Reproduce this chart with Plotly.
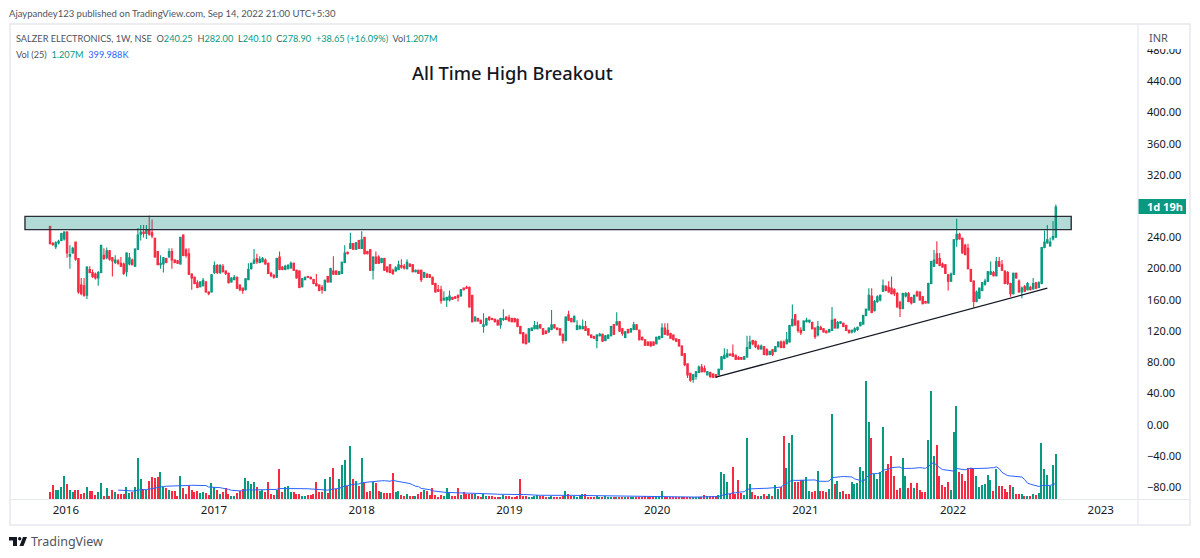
import pandas as pd
import plotly.graph_objects as go

first_week = "2015-11-23"
opens = [
254,232,228,233,236,238,247,216,220,234, 213,179,178,166,199,195,193,188,195,217,
214,223,214,208,210,207,206,196,206,211, 203,225,244,247,245,250,246,239,222,205,
206,213,215,222,211,210,206,243,224,219, 193,189,182,177,178,183,170,170,195,204,
195,203,197,194,183,186,189,179,175,173, 186,200,207,213,208,209,211,207,194,191,
189,215,202,199,200,201,207,198,197,177, 186,190,189,186,181,179,176,172,190,183,
197,197,193,194,208,221,226,232,225,236, 226,240,222,224,198,215,215,208,213,202,
205,198,197,199,204,203,200,206,205,196, 198,198,189,193,192,189,181,173,173,160,
160,160,163,164,166,165,175,176,176,166, 133,136,134,126,128,138,136,135,134,128,
135,138,137,136,136,135,126,118,115,106, 121,123,123,128,123,120,119,122,128,124,
123,116,108,141,136,132,122,123,123,126, 123,115,113,108,114,116,108,111,114,128,
128,132,123,112,122,119,122,128,121,112, 109,106,106,106,104,110,112,124,121,117,
115,110,109,101,91,78,66,58,62,67, 74,72,64,67,65,64,64,71,85,87,
90,91,89,86,86,84,87,98,108,107, 101,97,100,96,90,96,94,100,106,106,
104,106,127,141,133,121,121,132,132,131, 124,115,125,123,120,119,121,135,124,130,
130,127,121,119,120,122,127,129,140,147, 165,146,158,160,171,177,176,175,173,168,
157,149,165,168,163,157,170,170,164,158, 156,181,203,219,213,206,205,192,184,193,
237,244,239,230,226,199,184,158,162,172, 180,184,193,195,191,209,205,197,195,181,
168,194,184,170,177,173,176,174,182,176, 181,227,233,229,238,240.25]
closes = [
232,231,233,235,245,247,220,218,226,212, 170,168,166,202,195,190,188,195,230,213,
223,212,210,211,207,203,194,220,214,205, 225,243,247,245,250,244,242,215,205,207,
214,208,222,211,208,207,240,217,217,193, 188,181,176,183,185,170,168,192,204,195,
204,196,194,182,188,189,175,173,172,187, 199,207,211,209,212,213,206,194,191,189,
213,199,199,203,204,207,198,188,176,187, 189,189,187,181,178,172,173,185,183,200,
193,193,196,208,220,219,232,225,233,226, 237,219,219,198,215,207,207,213,198,196,
195,194,201,205,202,201,208,203,196,198, 194,186,195,189,189,180,170,171,159,162,
163,165,161,162,163,173,173,175,151,132, 138,133,130,128,136,135,135,132,128,136,
136,135,133,132,132,126,117,105,104,123, 124,127,127,124,116,117,124,128,124,122,
115,108,138,134,132,139,127,126,126,121, 115,112,111,115,116,107,114,115,126,116,
132,120,117,119,118,123,128,122,109,109, 102,102,101,102,112,113,124,116,115,111,
109,107,101,89,77,64,57,64,68,74, 68,68,68,62,61,61,71,87,89,91,
89,88,84,84,84,87,99,106,104,100, 97,101,90,90,94,90,100,106,99,99,
109,127,135,128,121,118,133,134,134,123, 113,126,122,119,118,122,134,124,131,132,
126,121,118,121,123,125,131,140,148,166, 144,158,164,166,178,172,170,168,168,151,
149,168,168,158,156,166,165,160,155,156, 181,209,211,207,204,202,194,184,193,237,
244,238,220,218,200,184,158,170,175,182, 184,196,196,191,209,203,198,181,181,168,
194,188,170,175,171,181,173,181,175,182, 227,234,237,234,241,278.9]
highs = [
255,234,235,237,246,248,248,230,228,234, 213,188,188,203,203,199,195,197,230,226,
227,224,215,217,212,215,208,221,220,213, 226,252,256,256,256,268,263,240,222,217,
215,214,226,226,212,211,241,244,226,226, 194,190,185,184,188,184,171,193,209,206,
206,206,198,195,189,192,190,180,176,188, 207,208,225,219,216,215,213,208,196,193,
214,222,203,205,206,209,208,199,198,188, 190,191,190,187,193,180,179,186,191,201,
216,198,197,209,230,222,246,233,234,237, 248,241,223,225,216,222,217,214,214,203,
206,200,203,210,212,206,212,207,206,199, 199,199,196,194,193,190,182,179,178,171,
164,172,164,165,167,174,176,178,177,166, 139,137,135,143,137,139,137,136,135,137,
148,139,141,137,137,136,127,119,117,124, 125,133,132,129,124,121,125,147,129,125,
124,117,139,146,137,140,134,128,135,133, 124,116,114,116,118,117,115,116,127,129,
144,133,124,120,123,124,132,129,122,113, 110,107,107,107,113,114,130,130,130,118,
116,111,110,102,92,79,66,65,69,76, 78,76,69,68,66,65,72,88,98,97,
92,103,90,88,87,88,114,114,109,108, 103,103,101,98,95,97,101,107,108,108,
119,128,154,142,134,125,134,137,135,132, 125,133,127,124,121,123,151,136,133,133,
131,128,122,122,125,126,132,141,149,175, 175,160,166,167,186,179,184,190,175,170,
159,169,170,170,164,167,172,171,165,159, 182,210,224,235,220,208,206,193,195,238,
264,246,240,232,232,200,185,172,176,183, 187,197,209,197,215,215,211,198,197,182,
195,195,186,177,179,183,178,188,183,184, 228,249,256,240,261,282]
lows = [
231,229,225,231,235,236,214,200,219,210, 168,166,164,161,194,188,186,178,194,211,
212,210,190,206,205,202,192,190,204,204, 202,224,236,240,238,242,239,214,205,200,
195,207,214,200,207,206,205,216,214,192, 173,180,175,176,177,169,166,169,193,193,
193,195,192,181,182,185,174,171,168,172, 185,199,206,206,207,208,205,193,189,187,
188,198,198,198,199,200,197,187,175,176, 185,188,186,180,177,171,168,171,182,182,
192,192,192,193,207,218,225,224,224,225, 225,218,218,197,186,206,206,207,197,195,
194,192,196,198,200,199,199,202,195,195, 193,183,188,188,188,179,169,170,155,159,
151,158,160,161,158,164,172,174,150,131, 132,132,129,118,127,133,134,131,127,123,
133,134,132,131,131,125,116,104,103,105, 120,122,122,123,115,116,118,121,123,121,
114,104,107,133,131,131,121,122,122,120, 114,111,110,98,113,106,107,110,113,115,
127,119,114,111,117,118,121,121,108,108, 101,101,100,101,103,109,111,115,114,110,
108,106,100,88,75,60,55,54,58,66, 67,67,63,60,60,60,63,70,84,86,
88,87,83,83,83,83,86,97,102,98, 96,96,89,88,89,88,93,99,98,98,
103,105,126,127,118,115,120,131,130,122, 110,113,121,118,117,118,120,123,123,129,
125,120,117,117,118,120,126,128,139,146, 143,145,156,158,170,171,169,167,165,150,
138,148,163,157,154,156,164,159,154,155, 155,180,202,206,203,201,193,172,183,192,
228,237,219,217,199,183,150,157,161,171, 178,183,192,190,190,202,197,180,179,164,
167,187,169,162,170,172,172,173,174,175, 180,226,232,228,236,240.1]
# Weekly volume, in units of about 8.94k shares (the last bar is 1.207M)
volumes = [
20,42,26,26,36,68,45,26,20,26, 26,15,17,37,23,23,12,20,48,9,
32,9,28,22,15,15,15,36,17,20, 36,122,60,30,28,55,65,62,65,80,
37,33,28,23,23,9,70,33,15,40, 28,20,25,18,22,17,12,48,35,28,
15,20,32,14,8,10,18,25,30,62, 55,45,50,35,25,28,22,50,14,12,
28,90,20,35,38,22,20,15,15,10, 10,13,13,15,50,22,20,60,17,65,
93,30,60,102,116,40,160,60,55,40, 122,48,22,25,52,48,25,20,18,18,
18,77,20,25,12,10,15,10,8,10, 15,20,28,25,12,33,12,7,12,10,
33,20,8,10,33,12,22,16,16,16, 16,8,5,14,8,10,8,6,7,6,
12,10,8,7,6,8,60,10,10,7, 6,10,12,10,10,6,5,10,5,4,
4,8,24,14,10,8,5,8,14,14, 7,7,7,9,4,4,10,6,4,6,
5,5,5,5,4,5,5,4,5,5, 10,4,5,5,5,5,23,5,5,6,
5,5,4,5,4,5,6,6,6,6, 6,13,10,10,10,10,13,80,76,52,
15,96,15,57,18,12,183,45,22,12, 8,10,15,10,14,9,42,30,36,189,
92,169,191,52,52,58,58,65,25,20, 25,84,24,24,22,30,254,45,54,20,
24,14,14,50,44,47,95,84,355,231, 183,75,60,80,217,85,105,129,70,28,
34,124,70,34,47,34,47,26,22,20, 177,324,129,163,68,42,36,50,28,200,
279,82,74,54,92,92,92,68,36,42, 45,72,57,24,90,40,38,30,22,42,
36,15,15,14,8,8,8,14,12,18, 169,90,71,40,102,135]
year_ticks = ["2016-01-01","2017-01-01","2018-01-01","2019-01-01","2020-01-01","2021-01-01","2022-01-01","2023-01-01"]
year_labels = ["2016","2017","2018","2019","2020","2021","2022","2023"]
zone_prices = [250, 267]
zone_dates = ["2015-09-22", "2022-10-20"]
trend_dates = ["2020-05-25", "2022-08-22"]
trend_prices = [61, 175]

UP = "#089981"
DOWN = "#f82a41"
FRAME = "#e6e8f0"
FONT = "Noto Sans"
TEXT_FONT = "Lato"

dates = pd.date_range(first_week, periods=len(closes), freq="7D")
vol_colors = [UP if c >= o else DOWN for o, c in zip(opens, closes)]
vol_ma = pd.Series(volumes).rolling(25).mean()


def xp(px):
    return (px - 10) / 1128


def yp(py):
    return (499 - py) / 475


fig = go.Figure()
fig.add_trace(go.Bar(x=dates, y=volumes, yaxis="y2", marker=dict(color=vol_colors, line=dict(width=0)),
                     width=7 * 86400000 * 0.5))
fig.add_trace(go.Scatter(x=dates, y=vol_ma, yaxis="y2", mode="lines", line=dict(color="#2962ff", width=1)))
fig.add_trace(go.Candlestick(x=dates, open=opens, high=highs, low=lows, close=closes,
                             increasing=dict(line=dict(color=UP, width=1.1), fillcolor=UP),
                             decreasing=dict(line=dict(color=DOWN, width=1.1), fillcolor=DOWN),
                             whiskerwidth=0))
fig.add_trace(go.Scatter(x=trend_dates, y=trend_prices, mode="lines", line=dict(color="#131722", width=1.3)))

shapes = [
    dict(type="rect", xref="x", yref="y", x0=zone_dates[0], x1=zone_dates[1], y0=zone_prices[0], y1=zone_prices[1],
         fillcolor="rgba(0,137,123,0.3)", line=dict(color="#2a2e39", width=1.4), layer="above"),
    dict(type="rect", xref="paper", yref="paper", x0=xp(1139), x1=xp(1189), y0=yp(49), y1=yp(25),
         fillcolor="white", line=dict(width=0), layer="above"),
    dict(type="rect", xref="paper", yref="paper", x0=xp(1138), x1=xp(1186), y0=yp(214), y1=yp(199),
         fillcolor=UP, line=dict(width=0), layer="above"),
    dict(type="rect", xref="paper", yref="paper", x0=xp(10), x1=xp(1190), y0=yp(525), y1=yp(24),
         fillcolor="rgba(0,0,0,0)", line=dict(color=FRAME, width=1.5), layer="above"),
    dict(type="line", xref="paper", yref="paper", x0=xp(1138), x1=xp(1138), y0=yp(525), y1=yp(24),
         line=dict(color=FRAME, width=1.2), layer="above"),
    dict(type="line", xref="paper", yref="paper", x0=xp(10), x1=xp(1190), y0=yp(499.5), y1=yp(499.5),
         line=dict(color=FRAME, width=1.2), layer="above"),
    # TradingView mark
    dict(type="path", xref="paper", yref="paper", layer="above", fillcolor="#131722", line=dict(width=0),
         path=f"M{xp(9)},{yp(537)} L{xp(17)},{yp(537)} L{xp(17)},{yp(546)} L{xp(13)},{yp(546)} L{xp(13)},{yp(540.5)} L{xp(9)},{yp(540.5)} Z"),
    dict(type="path", xref="paper", yref="paper", layer="above", fillcolor="#131722", line=dict(width=0),
         path=f"M{xp(23)},{yp(537)} L{xp(27)},{yp(537)} L{xp(23.5)},{yp(546)} L{xp(19.5)},{yp(546)} Z"),
    dict(type="circle", xref="paper", yref="paper", layer="above", fillcolor="#131722", line=dict(width=0),
         x0=xp(18), x1=xp(21.4), y0=yp(540.4), y1=yp(537)),
]


def note(px, py, text, size, color="#131722", anchor="left", family=TEXT_FONT, weight=None):
    font = dict(family=family, size=size, color=color)
    if weight:
        font["weight"] = weight
    return dict(xref="paper", yref="paper", x=xp(px), y=yp(py), text=text, showarrow=False,
                xanchor=anchor, yanchor="middle", align="left", font=font)


def sp(color, text):
    return f'<span style="color:{color}">{text}</span>'


GREY = "#50535e"
line1 = (sp(GREY, "SALZER ELECTRONICS, 1W, NSE  O") + sp(UP, "240.25") + sp(GREY, "  H") + sp(UP, "282.00")
         + sp(GREY, "  L") + sp(UP, "240.10") + sp(GREY, "  C") + sp(UP, "278.90")
         + sp(UP, "  +38.65 (+16.09%)") + sp(GREY, "  Vol") + sp(UP, "1.207M"))
line2 = sp(GREY, "Vol (25)  ") + sp(UP, "1.207M") + "  " + sp("#2962ff", "399.988K")

annotations = [
    note(7, 14, "Ajaypandey123 published on TradingView.com, Sep 14, 2022 21:00 UTC+5:30", 9.5, GREY),
    note(14, 39, line1, 9.2, GREY),
    note(14, 55, line2, 9.2, GREY),
    note(512, 72, "All Time High Breakout", 18.3, "#131722", "center", FONT, 500),
    note(1147, 37, "INR", 11, GREY, family=FONT),
    note(1145, 206.5, "<b>1d 19h</b>", 11, "white", family=FONT),
    note(29, 541, "TradingView", 12.5, GREY, family=FONT),
]

fig.update_layout(
    width=1200, height=558, autosize=False,
    margin=dict(l=10, r=62, t=24, b=59),
    paper_bgcolor="white", plot_bgcolor="white",
    showlegend=False, bargap=0, hovermode=False,
    font=dict(family=FONT, color="#131722", size=11),
    shapes=shapes, annotations=annotations,
    xaxis=dict(type="date", range=["2015-08-16", "2023-04-03"], tickmode="array", tickvals=year_ticks,
               ticktext=year_labels, showgrid=False, showline=False, zeroline=False, ticks="",
               rangeslider=dict(visible=False), tickfont=dict(family=FONT, size=11.5, color="#131722"),
               ticklabelstandoff=2),
    yaxis=dict(side="right", range=[-95, 513.3], tickmode="linear", tick0=0, dtick=40, tickformat=".2f",
               showgrid=False, showline=False, zeroline=False, ticks="", ticklabelstandoff=8,
               tickfont=dict(family=FONT, size=11, color="#131722")),
    yaxis2=dict(overlaying="y", range=[0, 1425], visible=False, fixedrange=True),
)

fig.write_html("out.html", config=dict(displayModeBar=False), post_script="document.body.style.margin='0';")
